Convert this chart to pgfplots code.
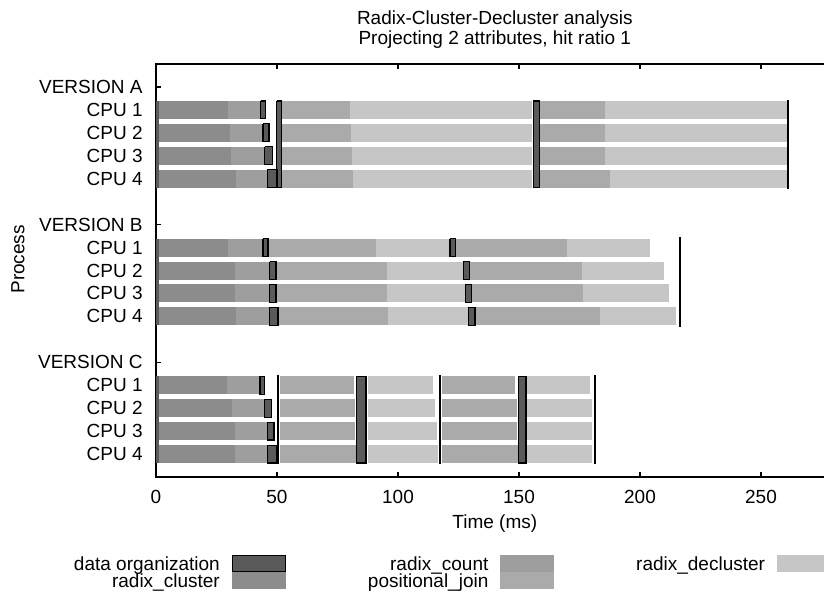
\documentclass[border=0pt]{standalone}
\usepackage{pgfplots}
\pgfplotsset{compat=1.18}
\usepackage{fontspec}
\setmainfont{Liberation Sans}
\definecolor{dorg}{HTML}{5A5A5A}
\definecolor{clus}{HTML}{8C8C8C}
\definecolor{cnt}{HTML}{9E9E9E}
\definecolor{pj}{HTML}{AAAAAA}
\definecolor{dec}{HTML}{C6C6C6}
\begin{document}
\begin{tikzpicture}
\begin{axis}[
  scale only axis, width=338.8pt, height=206.5pt,
  xmin=0, xmax=280, ymin=0, ymax=18, y dir=reverse,
  font=\fontsize{9.5}{11}\selectfont,
  /pgf/number format/assume math mode=true,
  xtick={0,50,100,150,200,250},
  ytick={1,2,3,4,5,7,8,9,10,11,13,14,15,16,17},
  yticklabels={VERSION A,CPU 1,CPU 2,CPU 3,CPU 4,VERSION B,CPU 1,CPU 2,CPU 3,CPU 4,VERSION C,CPU 1,CPU 2,CPU 3,CPU 4},
  ytick pos=left,
  tick align=inside, major tick length=2.5pt,
  axis line style={line width=0.6pt},
  every tick/.style={black, line width=0.6pt},
  yticklabel style={inner sep=0pt, anchor=east, xshift=-6.5pt},
  xticklabel style={inner sep=0pt, anchor=north, yshift=-6.5pt},
  xlabel={Time (ms)}, ylabel={Process},
  xlabel style={at={(axis description cs:0.5,0)}, anchor=center, yshift=-23.5pt, inner sep=0pt},
  ylabel style={at={(axis description cs:0,0.527)}, anchor=center, yshift=69pt, xshift=0pt, inner sep=0pt},
  title={Radix-Cluster-Decluster analysis\\Projecting 2 attributes, hit ratio 1},
  title style={align=center, anchor=south, at={(axis description cs:0.5,1)}, yshift=1.5pt, inner sep=0pt, font=\fontsize{9.5}{10}\selectfont},
  legend image code/.code={\draw[#1] (0pt,-4pt) rectangle (26.5pt,4pt);},
  legend cell align=right, legend plot pos=right,
  transpose legend, legend columns=2,
  legend style={draw=none, fill=none, inner sep=0pt, outer sep=0pt,
    at={(0,0)}, anchor=north west, xshift=-41pt, yshift=-39pt,
    column sep=6pt, row sep=0pt, font=\fontsize{9.5}{11}\selectfont,
    nodes={inner sep=0pt, text height=6.8pt, text depth=0pt},
    /tikz/every even column/.append style={column sep=41pt}},
]
\addlegendimage{fill=dorg, draw=black, line width=0.6pt}
\addlegendentry{data organization}
\addlegendimage{fill=clus, draw=clus}
\addlegendentry{radix\_cluster}
\addlegendimage{fill=cnt, draw=cnt}
\addlegendentry{radix\_count}
\addlegendimage{fill=pj, draw=pj}
\addlegendentry{positional\_join}
\addlegendimage{fill=dec, draw=dec}
\addlegendentry{radix\_decluster}

% radix_cluster
\addplot[forget plot, draw=clus, line width=9pt, unbounded coords=jump] coordinates {
(0,2)(29.8,2) (nan,nan) (0,3)(30.5,3) (nan,nan) (0,4)(31,4) (nan,nan) (0,5)(33,5) (nan,nan)
(0,8)(29.8,8) (nan,nan) (0,9)(32.6,9) (nan,nan) (0,10)(32.6,10) (nan,nan) (0,11)(33,11) (nan,nan)
(0,14)(29.3,14) (nan,nan) (0,15)(31.2,15) (nan,nan) (0,16)(32.6,16) (nan,nan) (0,17)(32.6,17)
};
% radix_count
\addplot[forget plot, draw=cnt, line width=9pt, unbounded coords=jump] coordinates {
(29.8,2)(43.2,2) (nan,nan) (30.5,3)(44.2,3) (nan,nan) (31,4)(45,4) (nan,nan) (33,5)(46,5) (nan,nan)
(29.8,8)(44.2,8) (nan,nan) (32.6,9)(47,9) (nan,nan) (32.6,10)(47,10) (nan,nan) (33,11)(47,11) (nan,nan)
(29.3,14)(43,14) (nan,nan) (31.2,15)(45,15) (nan,nan) (32.6,16)(46,16) (nan,nan) (32.6,17)(46,17)
};
% positional_join
\addplot[forget plot, draw=pj, line width=9pt, unbounded coords=jump] coordinates {
(52,2)(80.2,2) (nan,nan) (52,3)(80.5,3) (nan,nan) (52,4)(81,4) (nan,nan) (52,5)(81.5,5) (nan,nan)
(158.6,2)(185.5,2) (nan,nan) (158.6,3)(185.5,3) (nan,nan) (158.6,4)(185.5,4) (nan,nan) (158.6,5)(187.6,5) (nan,nan)
(46.3,8)(91,8) (nan,nan) (49.6,9)(95.4,9) (nan,nan) (49.6,10)(95.4,10) (nan,nan) (50.4,11)(96,11) (nan,nan)
(123.6,8)(170,8) (nan,nan) (129.5,9)(176,9) (nan,nan) (130.5,10)(176.6,10) (nan,nan) (131.8,11)(183.5,11) (nan,nan)
(51.2,14)(81.8,14) (nan,nan) (51.2,15)(82.2,15) (nan,nan) (51.2,16)(82.4,16) (nan,nan) (51.2,17)(82.6,17) (nan,nan)
(118,14)(148.3,14) (nan,nan) (118,15)(149,15) (nan,nan) (118,16)(149.2,16) (nan,nan) (118,17)(149.4,17)
};
% radix_decluster
\addplot[forget plot, draw=dec, line width=9pt, unbounded coords=jump] coordinates {
(80.2,2)(155.4,2) (nan,nan) (80.5,3)(155.4,3) (nan,nan) (81,4)(155.4,4) (nan,nan) (81.5,5)(155.4,5) (nan,nan)
(185.5,2)(260.7,2) (nan,nan) (185.5,3)(260.7,3) (nan,nan) (185.5,4)(260.7,4) (nan,nan) (187.6,5)(260.7,5) (nan,nan)
(91,8)(121.5,8) (nan,nan) (95.4,9)(127,9) (nan,nan) (95.4,10)(128,10) (nan,nan) (96,11)(129,11) (nan,nan)
(170,8)(204,8) (nan,nan) (176,9)(210,9) (nan,nan) (176.6,10)(212,10) (nan,nan) (183.5,11)(215,11) (nan,nan)
(87.6,14)(114.3,14) (nan,nan) (87.6,15)(115.3,15) (nan,nan) (87.6,16)(116,16) (nan,nan) (87.6,17)(116.6,17) (nan,nan)
(153.4,14)(179.3,14) (nan,nan) (153.4,15)(180,15) (nan,nan) (153.4,16)(180,16) (nan,nan) (153.4,17)(180,17)
};
% data organization boxes and barriers
\addplot[forget plot, fill=dorg, draw=black, line width=0.6pt, unbounded coords=jump] coordinates {
(43.2,1.61)(45.2,1.61)(45.2,2.39)(43.2,2.39)(43.2,1.61) (nan,nan)
(44.2,2.61)(46.7,2.61)(46.7,3.39)(44.2,3.39)(44.2,2.61) (nan,nan)
(45,3.61)(48,3.61)(48,4.39)(45,4.39)(45,3.61) (nan,nan)
(46,4.61)(50,4.61)(50,5.39)(46,5.39)(46,4.61) (nan,nan)
(49.9,1.61)(52,1.61)(52,5.39)(49.9,5.39)(49.9,1.61) (nan,nan)
(155.9,1.61)(158.6,1.61)(158.6,5.39)(155.9,5.39)(155.9,1.61) (nan,nan)
(44.2,7.61)(46.3,7.61)(46.3,8.39)(44.2,8.39)(44.2,7.61) (nan,nan)
(47,8.61)(49.6,8.61)(49.6,9.39)(47,9.39)(47,8.61) (nan,nan)
(47,9.61)(49.6,9.61)(49.6,10.39)(47,10.39)(47,9.61) (nan,nan)
(47,10.61)(50.4,10.61)(50.4,11.39)(47,11.39)(47,10.61) (nan,nan)
(121.5,7.61)(123.6,7.61)(123.6,8.39)(121.5,8.39)(121.5,7.61) (nan,nan)
(127,8.61)(129.5,8.61)(129.5,9.39)(127,9.39)(127,8.61) (nan,nan)
(128,9.61)(130.5,9.61)(130.5,10.39)(128,10.39)(128,9.61) (nan,nan)
(129,10.61)(131.8,10.61)(131.8,11.39)(129,11.39)(129,10.61) (nan,nan)
(43,13.61)(45,13.61)(45,14.39)(43,14.39)(43,13.61) (nan,nan)
(45,14.61)(47.8,14.61)(47.8,15.39)(45,15.39)(45,14.61) (nan,nan)
(46,15.61)(48.8,15.61)(48.8,16.39)(46,16.39)(46,15.61) (nan,nan)
(46,16.61)(50,16.61)(50,17.39)(46,17.39)(46,16.61) (nan,nan)
(82.9,13.61)(86.8,13.61)(86.8,17.39)(82.9,17.39)(82.9,13.61) (nan,nan)
(149.7,13.61)(152.9,13.61)(152.9,17.39)(149.7,17.39)(149.7,13.61)
};
% left edge stripes
\addplot[forget plot, draw=dorg, line width=1.5pt, unbounded coords=jump] coordinates {
(0.6,1.61)(0.6,5.39) (nan,nan) (0.6,7.61)(0.6,11.39) (nan,nan) (0.6,13.61)(0.6,17.39)
};
% end / synchronisation lines
\addplot[forget plot, draw=black, line width=1pt, unbounded coords=jump] coordinates {
(261,1.55)(261,5.45) (nan,nan)
(216.5,7.55)(216.5,11.45) (nan,nan)
(50.3,13.55)(50.3,17.45) (nan,nan)
(117.4,13.55)(117.4,17.45) (nan,nan)
(181.4,13.55)(181.4,17.45)
};
\end{axis}
\pgfresetboundingbox
\useasboundingbox (-78pt,-58pt) rectangle (334pt,238.5pt);
\end{tikzpicture}
\end{document}
